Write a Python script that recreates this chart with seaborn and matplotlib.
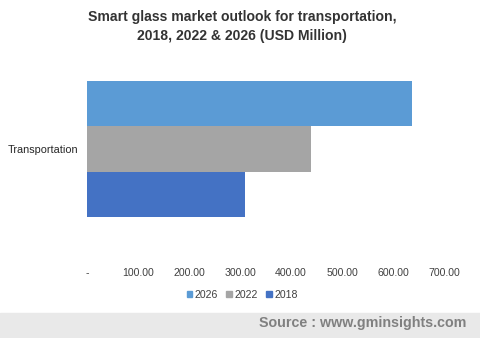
import matplotlib
matplotlib.use("Agg")
import matplotlib.pyplot as plt
import seaborn as sns
import pandas as pd
from matplotlib.patches import Rectangle

categories = ["Transportation"]
years = ["2026", "2022", "2018"]
values = [637.0, 439.0, 310.0]
colors = ["#5B9BD5", "#A5A5A5", "#4472C4"]
tick_values = [0, 100, 200, 300, 400, 500, 600, 700]
tick_labels = ["-", "100.00", "200.00", "300.00", "400.00", "500.00", "600.00", "700.00"]

df = pd.DataFrame({
    "segment": categories * len(years),
    "year": years,
    "value": values,
})

sns.set_theme(style="white")
plt.rcParams["font.family"] = ["Liberation Sans", "DejaVu Sans"]

W, H = 480, 338
fig = plt.figure(figsize=(W / 100, H / 100), dpi=100)

# axes placed in pixel terms: x 87..444, y 64..258
left, right, top, bottom = 87, 444, 64, 258
ax = fig.add_axes([left / W, (H - bottom) / H, (right - left) / W, (bottom - top) / H])

sns.barplot(data=df, x="value", y="segment", hue="year", hue_order=years,
            palette=colors, orient="h", width=0.8, saturation=1,
            linewidth=0, edgecolor="none", ax=ax, legend=False)

ax.set_xlim(0, 700)
ax.set_ylim(0.5 + 24 / 170, -0.5)
ax.set_xticks(tick_values)
ax.set_xticklabels(tick_labels, fontsize=7.6, color="#404040")
ax.tick_params(axis="x", length=0, pad=7)
ax.tick_params(axis="y", length=0, pad=6, labelsize=7.8, labelcolor="#262626")
ax.set_xlabel("")
ax.set_ylabel("")
for s in ax.spines.values():
    s.set_visible(False)
ax.grid(False)

fig.text(0.5 + 2 / W, 1 - 17 / H, "Smart glass market outlook for transportation,",
         ha="center", va="center", fontsize=10.1, fontweight="bold", color="#333333")
fig.text(0.5 + 2 / W, 1 - 36 / H, "2018, 2022 & 2026 (USD Million)",
         ha="center", va="center", fontsize=10.1, fontweight="bold", color="#333333")

# legend
handles = [Rectangle((0, 0), 1, 1, color=c) for c in colors]
fig.legend(handles, years, loc="center", bbox_to_anchor=(242 / W, 1 - 295 / H),
           ncol=3, frameon=False, fontsize=7.6, handlelength=0.55, handleheight=0.55,
           handletextpad=0.2, columnspacing=0.8, labelcolor="#404040")

# source band
fig.patches.append(Rectangle((0, 0), 1, 25 / H, transform=fig.transFigure,
                             color="#E9E9E9", zorder=0))
fig.text(466 / W, 1 - 323 / H, "Source : www.gminsights.com", ha="right", va="center",
         fontsize=10.3, fontweight="bold", color="#808080")

fig.savefig("out.png", dpi=100)
